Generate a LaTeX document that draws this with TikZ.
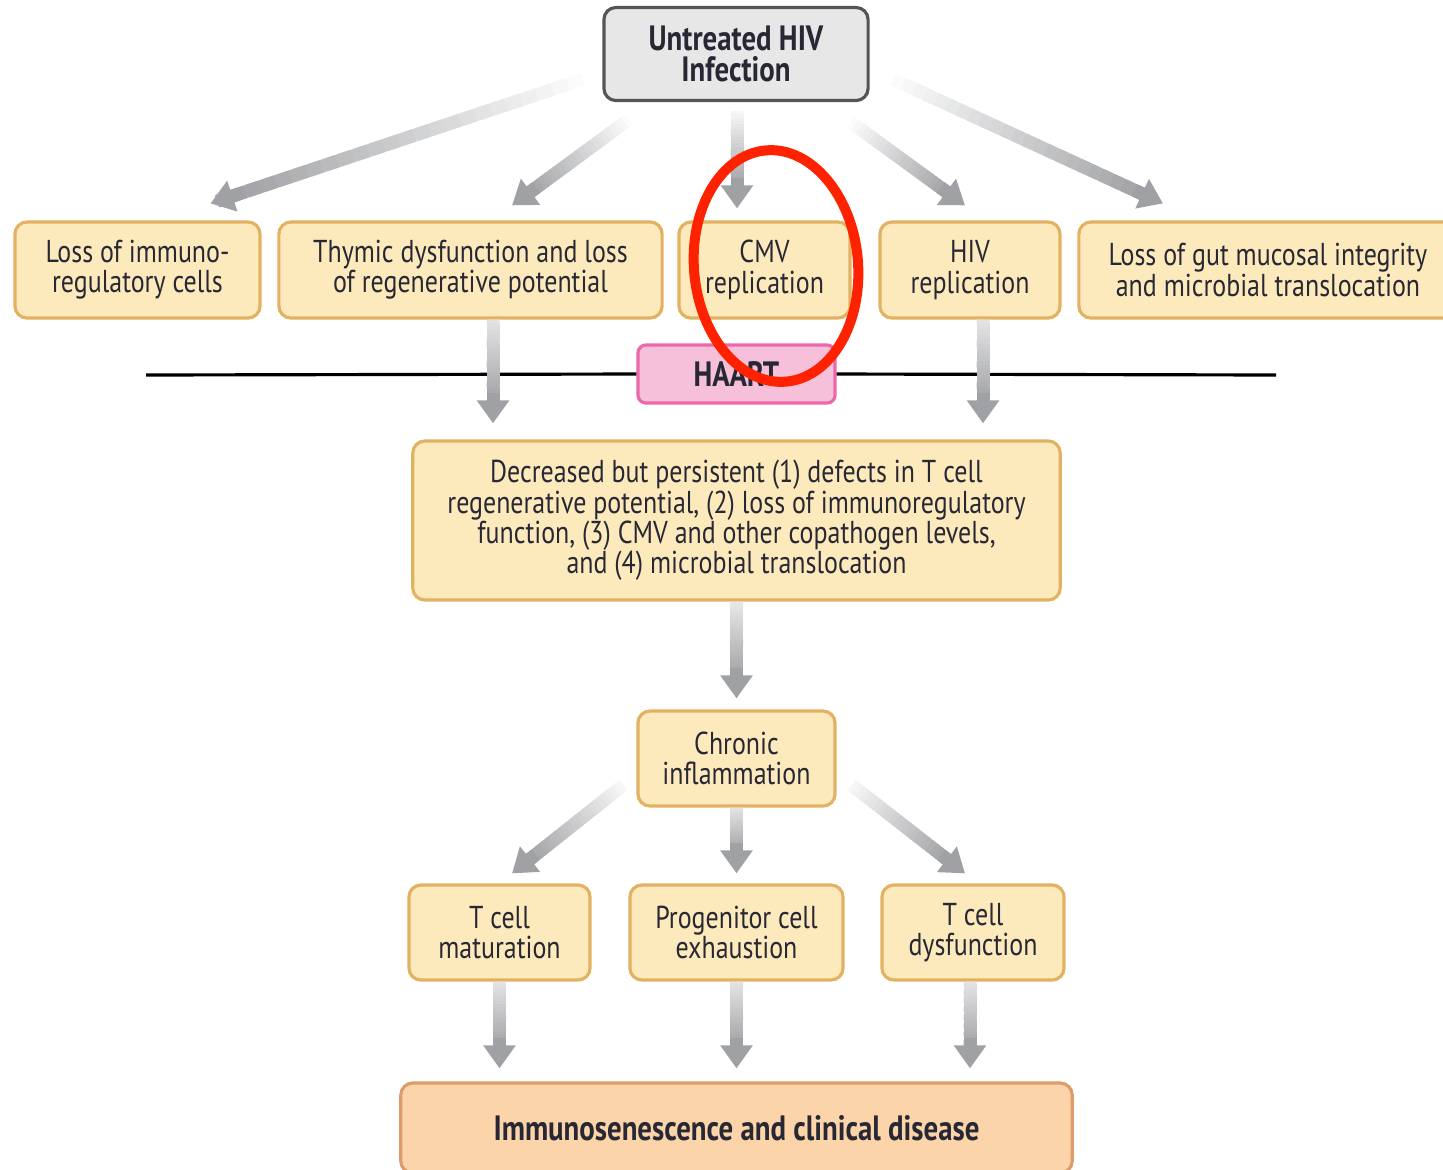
\documentclass[tikz,border=0pt]{standalone}
\usepackage{fontspec}
\setmainfont[FakeStretch=0.82]{PT Sans}
\usetikzlibrary{calc,arrows.meta}
\definecolor{boxfill}{RGB}{253,234,188}
\definecolor{boxline}{RGB}{226,178,98}
\definecolor{topfill}{RGB}{231,231,232}
\definecolor{topline}{RGB}{85,85,88}
\definecolor{haartfill}{RGB}{247,192,218}
\definecolor{haartline}{RGB}{236,104,168}
\definecolor{endfill}{RGB}{252,212,170}
\definecolor{endline}{RGB}{222,156,108}
\definecolor{arrowgray}{RGB}{160,161,164}
\definecolor{inkdark}{RGB}{40,40,52}
\definecolor{ringred}{RGB}{255,34,0}
\tikzset{
    stepbox/.style={
            draw=boxline,
            fill=boxfill,
            rounded corners=0.12cm,
            line width=0.9pt,
            align=center,
            inner sep=0pt, % size set by hand
            text=inkdark,
            font=\fontsize{9}{8.6}\selectfont
        },
    topbox/.style={
            stepbox,
            draw=topline,
            fill=topfill,
            font=\fontsize{10}{9}\selectfont\bfseries
        },
    endbox/.style={
            stepbox,
            draw=endline,
            fill=endfill,
            font=\fontsize{10}{9}\selectfont\bfseries
        },
    haartbox/.style={
            stepbox,
            draw=haartline,
            fill=haartfill,
            rounded corners=0.08cm,
            font=\fontsize{10}{9}\selectfont\bfseries
        },
    shaft/.style={
            line width={#1},
            draw=arrowgray,
            line cap=butt
        },
    shaft/.default={0.13cm}
}
% thick gray arrow, pale at the tail, solid near the head
\newcommand{\fadearrow}[3][0]{%
    \coordinate (fatail) at (#2);
    \coordinate (fatip) at (#3);
    \coordinate (fabase) at ($(fatip)!0.2cm!(fatail)$);
    \foreach \k in {0,...,23}{%
        \pgfmathtruncatemacro\kmix{#1+(100-#1)*\k/23}
        \draw[shaft, draw=arrowgray!\kmix!white]
        ($(fatail)!{\k/24}!(fabase)$) -- ($(fatail)!{(\k+1.8)/24}!(fabase)$);
    }
    \draw[shaft, -{Triangle[width=0.31cm, length=0.23cm]}]
    ($(fatip)!0.3cm!(fatail)$) -- (fatip);
}

\begin{document}
\begin{tikzpicture}[x=0.01cm, y=-0.01cm]
    \useasboundingbox (0,0) rectangle (1443,1169);
    %
    % HAART line behind its label
    \coordinate (haartl) at (146,375);
    \coordinate (haartr) at (1276,375);
    \node[haartbox, minimum width=1.97cm, minimum height=0.58cm] (haart) at (736.5,374) {HAART};
    \draw[line width=0.9pt] (haartl) -- (haart.west);
    \draw[line width=0.9pt] (haart.east) -- (haartr);
    %
    \node[topbox, minimum width=2.64cm, minimum height=0.93cm] (hiv) at (736,54) {Untreated HIV\\Infection};
    %
    \node[stepbox, minimum width=2.45cm, minimum height=0.96cm] (immuno) at (137.5,270) {Loss of immuno-\\regulatory cells};
    \node[stepbox, minimum width=3.83cm, minimum height=0.96cm] (thymic) at (470.5,270) {Thymic dysfunction and loss\\of regenerative potential};
    \node[stepbox, minimum width=1.71cm, minimum height=0.96cm] (cmv) at (764.5,270) {CMV\\replication};
    \node[stepbox, minimum width=1.80cm, minimum height=0.96cm] (hivrep) at (970,270) {HIV\\replication};
    \node[stepbox, minimum width=3.78cm, minimum height=0.96cm] (gut) at (1268,270) {Loss of gut mucosal integrity\\and microbial translocation};
    %
    \node[stepbox, minimum width=6.47cm, minimum height=1.59cm] (defects) at (736.5,520.5) {Decreased but persistent (1) defects in T cell\\regenerative potential, (2) loss of immunoregulatory\\function, (3) CMV and other copathogen levels,\\and (4) microbial translocation};
    \node[stepbox, minimum width=1.97cm, minimum height=0.95cm] (chronic) at (736.5,758.5) {Chronic\\inflammation};
    %
    \node[stepbox, minimum width=1.81cm, minimum height=0.95cm] (tmat) at (499.5,932.5) {T cell\\maturation};
    \node[stepbox, minimum width=2.13cm, minimum height=0.95cm] (prog) at (736.5,932.5) {Progenitor cell\\exhaustion};
    \node[stepbox, minimum width=1.82cm, minimum height=0.95cm] (tdys) at (973,932.5) {T cell\\dysfunction};
    %
    \node[endbox, minimum width=6.71cm, minimum height=0.9cm] (disease) at (736.5,1128) {Immunosenescence and clinical disease};
    %
    % arrows out of the infection box
    \fadearrow{$(hiv.west)+(-4,20)$}{$(immuno.north)+(73,-17)$}
    \fadearrow{$(hiv.south west)+(31,14)$}{$(thymic.north)+(41.5,-15)$}
    \fadearrow[10]{$(hiv.south)+(1,9)$}{$(cmv.north -| hiv.south)+(1,-12)$}
    \fadearrow{$(hiv.south east)+(-23,17)$}{$(hivrep.north)+(-5,-15)$}
    \fadearrow{$(hiv.east)+(12,20)$}{$(gut.north)+(-105,-17)$}
    %
    % through the HAART line
    \fadearrow[30]{$(thymic.south)+(22.5,0)$}{$(thymic.south |- defects.north)+(22.5,-16)$}
    \fadearrow[30]{$(hivrep.south)+(13,0)$}{$(hivrep.south |- defects.north)+(13,-16)$}
    \fadearrow[25]{defects.south}{$(chronic.north)+(0,-11)$}
    %
    \fadearrow[10]{$(chronic.west)+(-13,26.5)$}{$(tmat.north)+(12.5,-10)$}
    \fadearrow[30]{chronic.south}{$(prog.north)+(0,-10)$}
    \fadearrow[10]{$(chronic.east)+(15,26.5)$}{$(tdys.north)+(-8,-10)$}
    %
    \fadearrow[30]{tmat.south}{$(tmat.south |- disease.north)+(0,-13)$}
    \fadearrow[30]{prog.south}{$(prog.south |- disease.north)+(0,-13)$}
    \fadearrow[30]{$(tdys.south)+(-3,0)$}{$(tdys.south |- disease.north)+(-3,-13)$}
    %
    % red ring round the CMV box
    \draw[ringred, line width=0.1cm] (776,266) ellipse [x radius=0.82cm, y radius=1.16cm, rotate=5];
\end{tikzpicture}
\end{document}
